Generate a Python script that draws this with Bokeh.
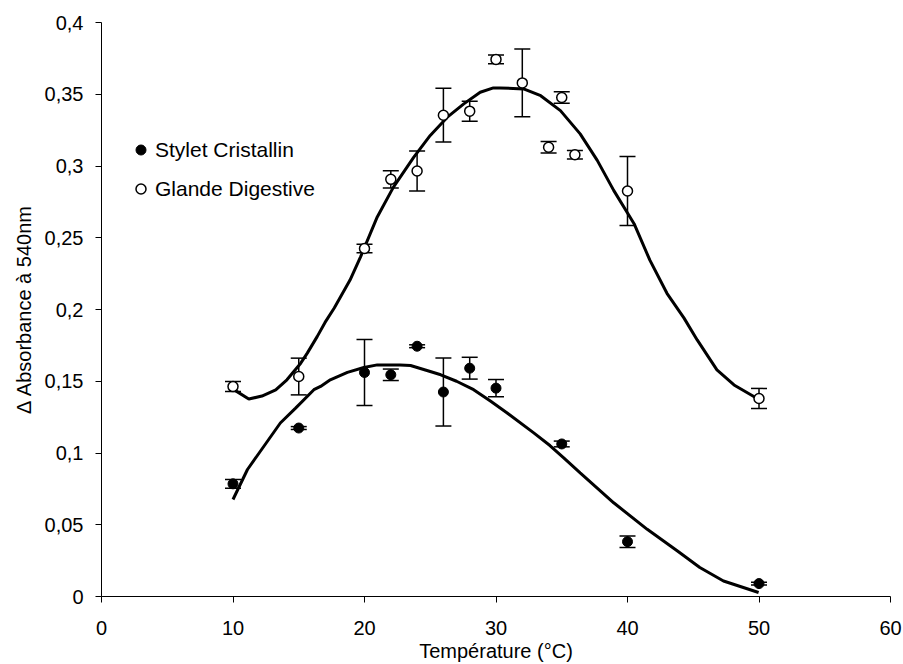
from bokeh.plotting import figure
from bokeh.models import (Range1d, FixedTicker, CustomJSTickFormatter, Whisker, TeeHead,
                          ColumnDataSource, Legend, LegendItem)
from bokeh.embed import file_html
from bokeh.resources import INLINE

# ---- data ----
temp_sc = [10, 15, 20, 22, 24, 26, 28, 30, 35, 40, 50]
abs_sc = [0.0785, 0.1174, 0.1561, 0.1545, 0.1744, 0.1425, 0.1591, 0.1452, 0.1063, 0.0382, 0.009]
err_sc = [0.003, 0.001, 0.023, 0.004, 0.001, 0.0237, 0.0076, 0.006, 0.002, 0.004, 0.001]

temp_gd = [10, 15, 20, 22, 24, 26, 28, 30, 32, 34, 35, 36, 40, 50]
abs_gd = [0.1463, 0.1533, 0.2425, 0.2907, 0.2965, 0.3354, 0.3382, 0.3743, 0.3579, 0.3131,
          0.3477, 0.3078, 0.2826, 0.138]
err_gd = [0.0035, 0.0128, 0.003, 0.006, 0.014, 0.0187, 0.007, 0.003, 0.0236, 0.004,
          0.004, 0.003, 0.024, 0.007]

# trend curves
curve_sc_x = [10.0, 11.1, 12.35, 13.6, 14.76, 16.15, 16.66, 17.4, 18.7, 19.95, 20.97, 22.7,
              23.5, 25.0, 25.8, 27.0, 28.3, 29.6, 30.85, 32.87, 34.1, 35.15, 36.4, 38.95,
              41.5, 43.8, 45.5, 47.3, 49.97]
curve_sc_y = [0.0676, 0.0885, 0.1047, 0.1209, 0.1313, 0.1441, 0.1464, 0.151, 0.1562, 0.1596,
              0.1614, 0.1614, 0.161, 0.1568, 0.1545, 0.15, 0.1441, 0.136, 0.1279, 0.114,
              0.1052, 0.0966, 0.0862, 0.0653, 0.0468, 0.0317, 0.0202, 0.0108, 0.0028]

curve_gd_x = [10.0, 11.2, 12.2, 13.25, 14.1, 15.15, 15.65, 16.4, 17.0, 17.7, 18.9, 19.7,
              20.97, 22.2, 23.75, 25.0, 26.3, 27.55, 28.8, 29.8, 30.3, 32.1, 33.4, 34.9,
              36.4, 37.7, 38.95, 40.5, 41.7, 43.0, 44.3, 45.3, 46.8, 48.1, 49.8]
curve_gd_y = [0.1445, 0.1376, 0.1397, 0.144, 0.151, 0.1626, 0.1696, 0.1811, 0.1910, 0.2010,
              0.2205, 0.2367, 0.2645, 0.2853, 0.3062, 0.3213, 0.334, 0.3433, 0.3514,
              0.3544, 0.3544, 0.3537, 0.349, 0.3386, 0.3224, 0.3039, 0.283, 0.2598, 0.2344,
              0.2113, 0.194, 0.1788, 0.1579, 0.1474, 0.1383]

x_ticks = [0, 10, 20, 30, 40, 50, 60]
y_ticks = [0, 0.05, 0.1, 0.15, 0.2, 0.25, 0.3, 0.35, 0.4]

FONT = "Liberation Sans"
FS = "20px"

p = figure(width=903, height=664, output_backend="svg", toolbar_location=None,
           x_range=Range1d(0, 60), y_range=Range1d(0, 0.4),
           min_border_left=101, min_border_right=13, min_border_top=22, min_border_bottom=67)
p.outline_line_color = None
p.xgrid.grid_line_color = None
p.ygrid.grid_line_color = None
p.background_fill_color = "white"
p.border_fill_color = "white"

for ax in (p.xaxis[0], p.yaxis[0]):
    ax.axis_line_color = "black"
    ax.axis_line_width = 1
    ax.major_tick_line_color = "black"
    ax.major_tick_in = 0
    ax.major_tick_out = 6
    ax.minor_tick_line_color = None
    ax.major_label_text_font = FONT
    ax.major_label_text_font_size = FS
    ax.major_label_text_color = "black"
    ax.axis_label_text_font = FONT
    ax.axis_label_text_font_size = FS
    ax.axis_label_text_font_style = "normal"
    ax.axis_label_text_color = "black"

p.xaxis.ticker = FixedTicker(ticks=x_ticks)
p.yaxis.ticker = FixedTicker(ticks=y_ticks)
p.yaxis.formatter = CustomJSTickFormatter(code="return String(tick).replace('.', ',');")
p.xaxis.major_label_standoff = 18
p.xaxis.axis_label_standoff = 2
p.yaxis.major_label_standoff = 12
p.yaxis.axis_label_standoff = 7
p.xaxis.axis_label = "Température (°C)"
p.yaxis.axis_label = "\u0394 Absorbance à 540nm"

# trend curves
p.line(curve_gd_x, curve_gd_y, line_color="black", line_width=3)
p.line(curve_sc_x, curve_sc_y, line_color="black", line_width=3)

# error bars
for xs, ys, es in ((temp_sc, abs_sc, err_sc), (temp_gd, abs_gd, err_gd)):
    src = ColumnDataSource(dict(base=xs,
                                upper=[y + e for y, e in zip(ys, es)],
                                lower=[y - e for y, e in zip(ys, es)]))
    w = Whisker(source=src, base="base", upper="upper", lower="lower", dimension="height",
                line_color="black", line_width=1.5,
                upper_head=TeeHead(size=16, line_color="black", line_width=1.5),
                lower_head=TeeHead(size=16, line_color="black", line_width=1.5))
    p.add_layout(w)

r_sc = p.scatter(temp_sc, abs_sc, marker="circle", size=10, fill_color="black",
                 line_color="black", line_width=1)
r_gd = p.scatter(temp_gd, abs_gd, marker="circle", size=10, fill_color="white",
                 line_color="black", line_width=1.5)

legend = Legend(items=[LegendItem(label="Stylet Cristallin", renderers=[r_sc]),
                       LegendItem(label="Glande Digestive", renderers=[r_gd])],
                location=(27, 388), orientation="vertical",
                glyph_width=25, glyph_height=39, label_standoff=2, spacing=0,
                padding=0, margin=0, border_line_alpha=0, background_fill_alpha=0,
                label_text_font=FONT, label_text_font_size="21px", label_text_color="black",
                label_height=39)
p.add_layout(legend)

open("out.html", "w").write(file_html(p, INLINE))
